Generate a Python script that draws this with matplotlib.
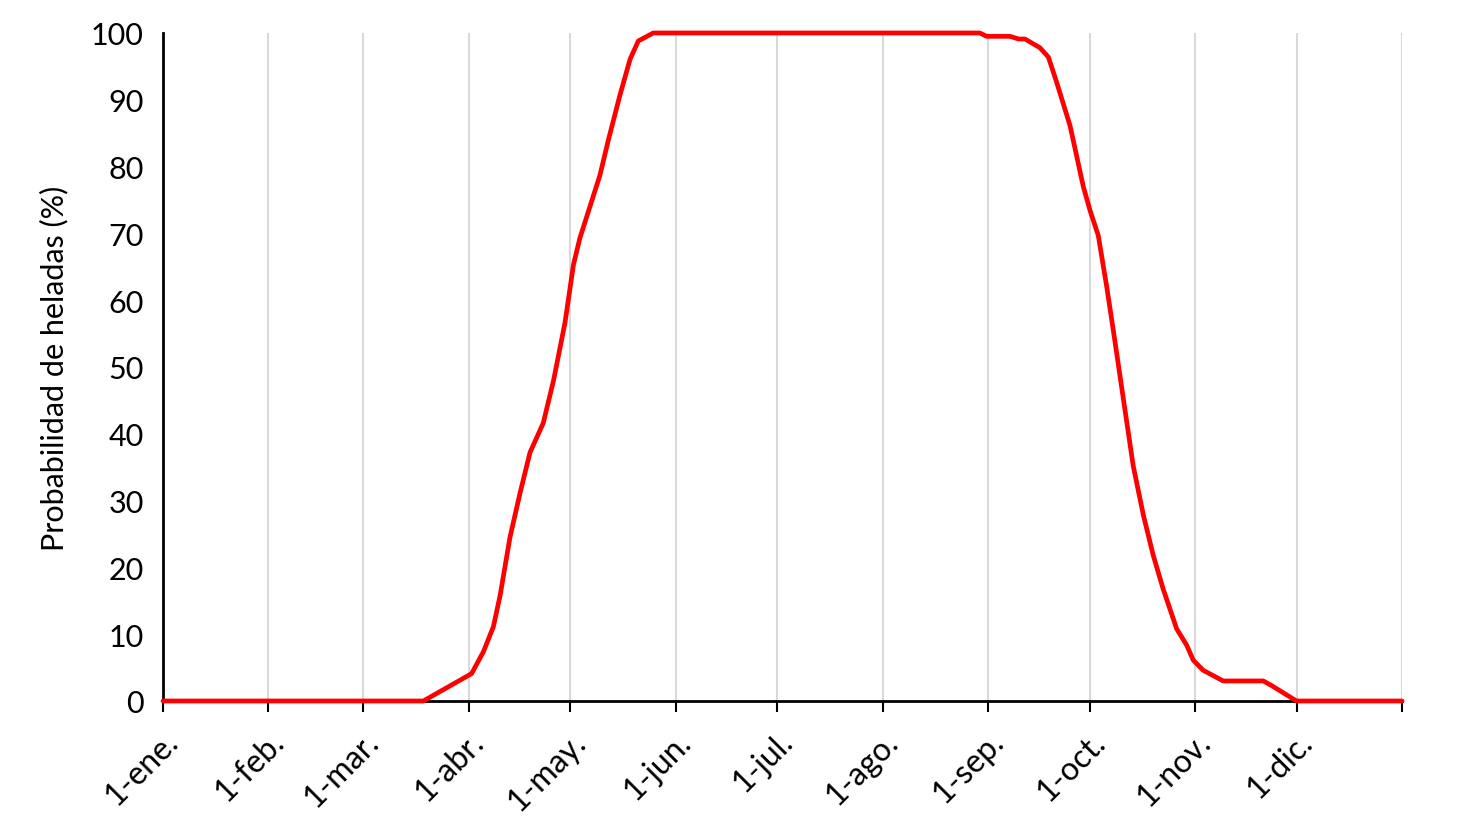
import matplotlib
matplotlib.use("Agg")
import matplotlib.pyplot as plt

# dia del año (0 = 1-ene.) y probabilidad de heladas (%)
dias = [0, 76.7, 90.9, 94.4, 97.3, 99.3, 102.2, 105.2, 108.1, 112.0, 115.0,
        118.4, 120.9, 122.8, 128.7, 131.2, 134.6, 137.6, 140.0, 144.4,
        240.6, 242.6, 249.5, 252.0, 253.9, 258.3, 260.8, 263.2, 267.2,
        271.1, 273.1, 275.5, 278.0, 280.4, 282.9, 285.8, 288.8, 291.7,
        294.6, 298.6, 301.5, 303.5, 306.4, 312.3, 324.1, 326.6, 333.9, 365]
prob = [0, 0, 4.1, 7.4, 11.1, 15.8, 24.5, 31.2, 37.2, 41.6, 47.9,
        56.6, 65.3, 69.3, 78.7, 84.0, 90.7, 96.1, 98.8, 100,
        100, 99.5, 99.5, 99.1, 99.1, 97.8, 96.4, 92.7, 86.1,
        77.0, 73.4, 69.7, 62.0, 53.9, 45.2, 35.2, 27.8, 21.8,
        16.8, 10.8, 8.4, 6.1, 4.6, 3.0, 3.0, 2.3, 0, 0]

meses_pos = [0, 31, 59, 90, 120, 151, 181, 212, 243, 273, 304, 334, 365]
meses_lab = ['1-ene.', '1-feb.', '1-mar.', '1-abr.', '1-may.', '1-jun.',
             '1-jul.', '1-ago.', '1-sep.', '1-oct.', '1-nov.', '1-dic.', '']

plt.rcParams['font.family'] = ['Lato', 'DejaVu Sans']

fig = plt.figure(figsize=(14.57, 8.37), dpi=100)
ax = fig.add_axes([0.1119, 0.1613, 0.8504, 0.7981])

for m in meses_pos[1:]:
    ax.axvline(m, color='#d9d9d9', lw=1.5, zorder=0)

ax.plot(dias, prob, color='#ff0000', lw=3.4, clip_on=False, zorder=3,
        solid_joinstyle='round', solid_capstyle='round')

ax.set_xlim(0, 365)
ax.set_ylim(0, 100)
ax.set_yticks(range(0, 101, 10))
ax.set_xticks(meses_pos)
ax.set_xticklabels(meses_lab, rotation=45, ha='right', rotation_mode='anchor')

ax.tick_params(axis='x', direction='out', length=8, width=1.5, labelsize=23, pad=10)
ax.tick_params(axis='y', length=0, labelsize=22, pad=14)

for s in ['top', 'right']:
    ax.spines[s].set_visible(False)
ax.spines['left'].set_linewidth(2)
ax.spines['bottom'].set_linewidth(2)

ax.set_ylabel('Probabilidad de heladas (%)', fontsize=22, labelpad=16)

fig.savefig('out.png', dpi=100)
